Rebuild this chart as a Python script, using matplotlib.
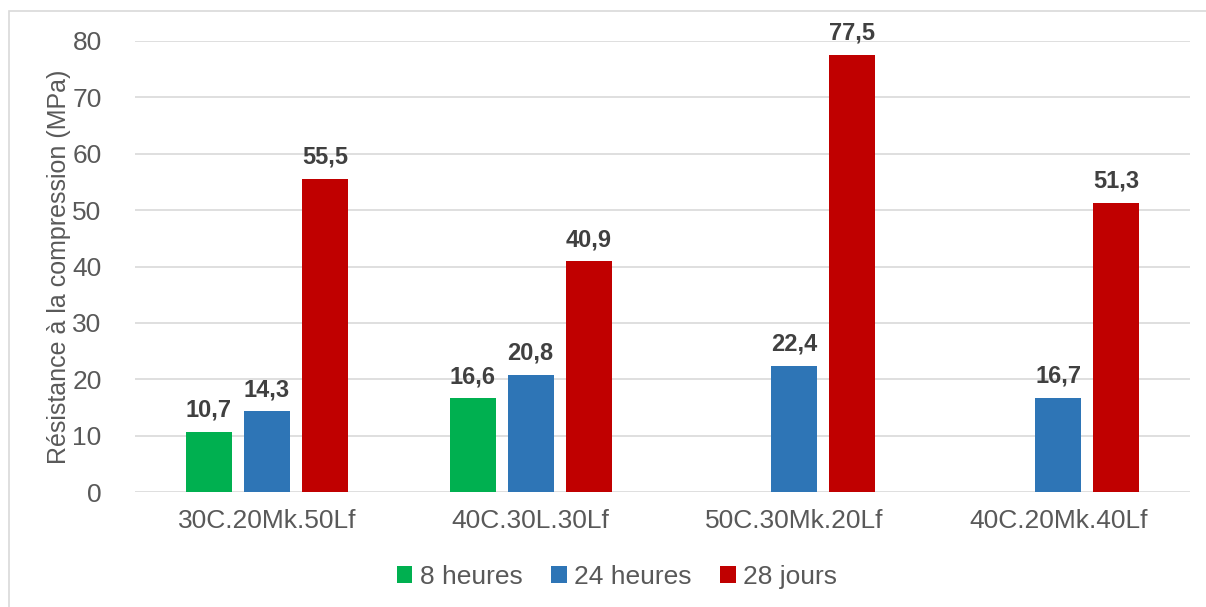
import numpy as np
import matplotlib
matplotlib.use("Agg")
from matplotlib import pyplot as plt
from matplotlib.patches import Rectangle

categories = ["30C.20Mk.50Lf", "40C.30L.30Lf", "50C.30Mk.20Lf", "40C.20Mk.40Lf"]
series_names = ["8 heures", "24 heures", "28 jours"]
h8 = [10.7, 16.6, np.nan, np.nan]
h24 = [14.3, 20.8, 22.4, 16.7]
d28 = [55.5, 40.9, 77.5, 51.3]
colors = ["#00B050", "#2E75B6", "#C00000"]

plt.rcParams["font.family"] = ["Liberation Sans", "DejaVu Sans"]

fig = plt.figure(figsize=(12.06, 6.07), dpi=100)
# light frame around the chart
fig.patches.append(Rectangle((9 / 1206, -0.01), 1.02, 1 - 11 / 607 + 0.01,
                             transform=fig.transFigure, fill=False,
                             edgecolor="#D9D9D9", linewidth=1.2))

ax = fig.add_axes([135 / 1206, 1 - 492 / 607, (1190 - 135) / 1206, (492 - 41) / 607])

x = np.arange(len(categories))
width = 0.174
step = 0.22
for i, (vals, name) in enumerate(zip([h8, h24, d28], series_names)):
    pos = x + (i - 1) * step
    ax.bar(pos, vals, width, color=colors[i], label=name, zorder=3)
    for p, v in zip(pos, vals):
        if np.isnan(v):
            continue
        ax.text(p, v + 1.8, ("%.1f" % v).replace(".", ","), ha="center", va="bottom",
                fontsize=17, fontweight="bold", color="#404040")

ax.set_xlim(-0.5, len(categories) - 0.5)
ax.set_ylim(0, 80)
ax.set_yticks(range(0, 81, 10))
ax.set_xticks(x)
ax.set_xticklabels(categories)
ax.tick_params(axis="both", length=0, labelsize=19, colors="#595959")
ax.tick_params(axis="x", pad=12)
ax.tick_params(axis="y", pad=24)
ax.grid(axis="y", color="#D9D9D9", linewidth=1.2, zorder=0)
for s in ax.spines.values():
    s.set_visible(False)
ax.set_ylabel("Résistance à la compression (MPa)", fontsize=18, color="#595959", labelpad=1)

fig.legend(loc="center", bbox_to_anchor=(617 / 1206, 1 - 577 / 607), ncol=3, frameon=False,
           fontsize=19, labelcolor="#595959", handlelength=0.6, handleheight=0.6,
           handletextpad=0.3, columnspacing=1.05)

fig.savefig("out.png", dpi=100)
